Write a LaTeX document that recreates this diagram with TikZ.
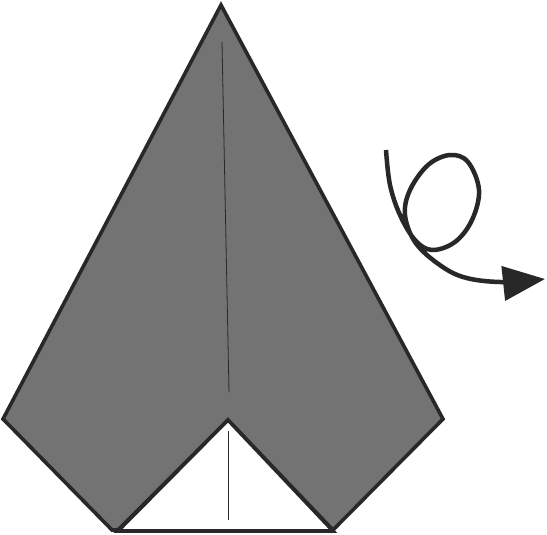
\documentclass[tikz,border=0pt]{standalone}
\usetikzlibrary{arrows.meta}
\definecolor{paper}{RGB}{115,115,115}
\definecolor{ink}{RGB}{40,40,40}
\tikzset{
  outline/.style={draw=ink, line width=3.6pt, line join=miter},
  crease/.style={draw=ink, line width=0.8pt},
  turnarrow/.style={draw=ink, line width=4.5pt, -{Triangle[length=42pt,width=34pt]}}
}
\begin{document}
\begin{tikzpicture}[x=1pt,y=-1pt]
\useasboundingbox (0,0) rectangle (547,535);
% grey model
\path[outline, fill=paper] (221,5) -- (443,419) -- (333,530) -- (228,420) -- (118,530) -- (112,530) -- (3,419) -- cycle;
% white triangle
\path[outline, fill=white] (118,531) -- (228,420) -- (333,531) -- cycle;
% creases
\draw[crease] (222,42) -- (229,392);
\draw[crease, line width=0.6pt] (228,431) -- (228,520);
% turn-over arrow
\draw[turnarrow] plot[smooth, tension=0.6] coordinates {
  (386,150) (390,185) (400,215) (415,240) (432,250) (455,242) (472,220)
  (479,190) (468,162) (450,155) (428,165) (410,190) (405,215) (415,242)
  (437,263) (463,277) (500,282) (545,279)};
\end{tikzpicture}
\end{document}
